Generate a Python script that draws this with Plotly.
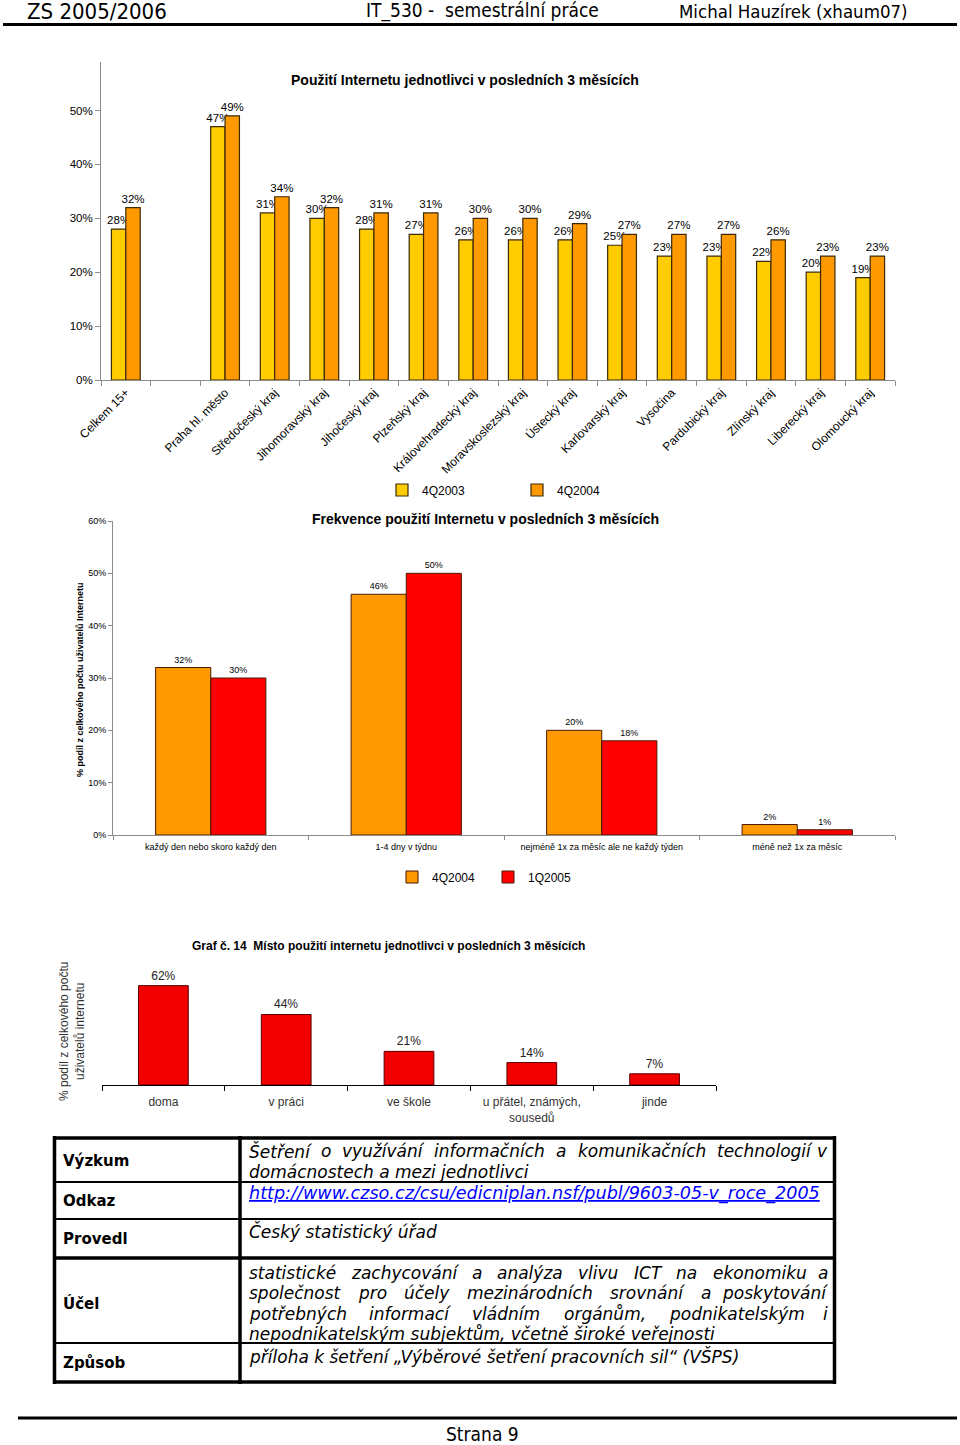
import plotly.graph_objects as go

W, H = 960, 1445
def X(px): return px / W
def Y(py): return 1 - py / H

ARIAL = "Arial, Liberation Sans, sans-serif"
VERD = "Verdana, DejaVu Sans, sans-serif"
NARROW = "DejaVu Sans Condensed, Liberation Sans Narrow, sans-serif"

# ---------------- data ----------------
header_left = "ZS 2005/2006"
header_mid = "IT_530 -  semestrální práce"
header_right = "Michal Hauzírek (xhaum07)"
footer_text = "Strana 9"

c1_title = "Použití Internetu jednotlivci v posledních 3 měsících"
c1_categories = ["Celkem 15+", " ", "Praha hl. město", "Středočeský kraj", "Jihomoravský kraj",
                 "Jihočeský kraj", "Plzeňský kraj", "Královehradecký kraj", "Moravskoslezský kraj",
                 "Ústecký kraj", "Karlovarský kraj", "Vysočina", "Pardubický kraj", "Zlínský kraj",
                 "Liberecký kraj", "Olomoucký kraj"]
c1_series = ["4Q2003", "4Q2004"]
c1_4q2003 = [0.28, None, 0.47, 0.31, 0.30, 0.28, 0.27, 0.26, 0.26, 0.26, 0.25, 0.23, 0.23, 0.22, 0.20, 0.19]
c1_4q2004 = [0.32, None, 0.49, 0.34, 0.32, 0.31, 0.31, 0.30, 0.30, 0.29, 0.27, 0.27, 0.27, 0.26, 0.23, 0.23]
c1_yticks = [0, 0.1, 0.2, 0.3, 0.4, 0.5]

c2_title = "Frekvence použití Internetu v posledních 3 měsících"
c2_ytitle = "% podíl z celkového počtu uživatelů Internetu"
c2_categories = ["každý den nebo skoro každý den", "1-4 dny v týdnu",
                 "nejméně 1x za měsíc ale ne každý týden", "méně než 1x za měsíc"]
c2_series = ["4Q2004", "1Q2005"]
c2_4q2004 = [0.32, 0.46, 0.20, 0.02]
c2_1q2005 = [0.30, 0.50, 0.18, 0.01]
c2_yticks = [0, 0.1, 0.2, 0.3, 0.4, 0.5, 0.6]

c3_title = "Graf č. 14  Místo použití internetu jednotlivci v posledních 3 měsících"
c3_ytitle = "% podíl z celkového počtu<br>uživatelů internetu"
c3_categories = ["doma", "v práci", "ve škole", "u přátel, známých,<br>sousedů", "jinde"]
c3_values = [62, 44, 21, 14, 7]

tbl_labels = ["Výzkum", "Odkaz", "Provedl", "Účel", "Způsob"]
tbl_vyzkum = ["Šetření o využívání informačních a komunikačních technologií v",
              "domácnostech a mezi jednotlivci"]
tbl_odkaz = "http://www.czso.cz/csu/edicniplan.nsf/publ/9603-05-v_roce_2005"
tbl_provedl = "Český statistický úřad"
tbl_ucel = ["statistické zachycování a analýza vlivu ICT na ekonomiku a",
            "společnost pro účely mezinárodních srovnání a poskytování",
            "potřebných informací vládním orgánům, podnikatelským i",
            "nepodnikatelským subjektům, včetně široké veřejnosti"]
tbl_zpusob = "příloha k šetření „Výběrové šetření pracovních sil“ (VŠPS)"

# ---------------- figure ----------------
fig = go.Figure()
EDGE1 = "#3d2a06"

fig.add_trace(go.Bar(x=c1_categories, y=c1_4q2003, name=c1_series[0], width=0.29, offset=-0.29,
                     marker=dict(color="#FFCC00", line=dict(color=EDGE1, width=1.2)),
                     texttemplate="%{y:.0%}", textposition="outside", constraintext="none",
                     cliponaxis=False, textfont=dict(family=ARIAL, size=11.5, color="black"),
                     xaxis="x", yaxis="y", legend="legend", hoverinfo="skip"))
fig.add_trace(go.Bar(x=c1_categories, y=c1_4q2004, name=c1_series[1], width=0.29, offset=0,
                     marker=dict(color="#FF9900", line=dict(color=EDGE1, width=1.2)),
                     texttemplate="%{y:.0%}", textposition="outside", constraintext="none",
                     cliponaxis=False, textfont=dict(family=ARIAL, size=11.5, color="black"),
                     xaxis="x", yaxis="y", legend="legend", hoverinfo="skip"))

EDGE2 = "#4a1a00"
fig.add_trace(go.Bar(x=c2_categories, y=c2_4q2004, name=c2_series[0], width=0.282, offset=-0.282,
                     marker=dict(color="#FF9900", line=dict(color=EDGE2, width=1)),
                     texttemplate="%{y:.0%}", textposition="outside", constraintext="none",
                     cliponaxis=False, textfont=dict(family=ARIAL, size=9, color="black"),
                     xaxis="x2", yaxis="y2", legend="legend2", hoverinfo="skip"))
fig.add_trace(go.Bar(x=c2_categories, y=c2_1q2005, name=c2_series[1], width=0.282, offset=0,
                     marker=dict(color="#FF0000", line=dict(color=EDGE2, width=1)),
                     texttemplate="%{y:.0%}", textposition="outside", constraintext="none",
                     cliponaxis=False, textfont=dict(family=ARIAL, size=9, color="black"),
                     xaxis="x2", yaxis="y2", legend="legend2", hoverinfo="skip"))

fig.add_trace(go.Bar(x=c3_categories, y=c3_values, name="místo", width=0.405, offset=-0.2025,
                     marker=dict(color="#F20000", line=dict(color="#5a0000", width=1)),
                     texttemplate="%{y}%", textposition="outside", constraintext="none",
                     cliponaxis=False, textfont=dict(family=ARIAL, size=12, color="#222"),
                     xaxis="x3", yaxis="y3", showlegend=False, hoverinfo="skip"))

annotations = []
shapes = []

def ann(px, py, text, size, family=ARIAL, xanchor="center", color="black", yanchor="middle"):
    annotations.append(dict(x=X(px), y=Y(py), xref="paper", yref="paper", text=text,
                            showarrow=False, xanchor=xanchor, yanchor=yanchor,
                            font=dict(family=family, size=size, color=color)))

def line(x0, y0, x1, y1, width, color="black"):
    shapes.append(dict(type="line", xref="paper", yref="paper", x0=X(x0), y0=Y(y0),
                       x1=X(x1), y1=Y(y1), line=dict(color=color, width=width)))

# header / footer
ann(25, 11, header_left, 22, NARROW, "left")
ann(482, 10.5, header_mid, 19, NARROW, "center")
ann(910, 11, header_right, 18.5, NARROW, "right")
line(3, 24.5, 957, 24.5, 3)
line(18, 1418, 957, 1418, 3)
ann(482, 1434, footer_text, 19, NARROW, "center")

# chart titles
ann(465, 80, "<b>" + c1_title + "</b>", 14)
ann(485, 519, "<b>" + c2_title + "</b>", 14)
ann(388, 946, "<b>" + c3_title + "</b>", 12)
ann(80, 680, "<b>" + c2_ytitle + "</b>", 9)
annotations[-1]["textangle"] = -90
ann(72, 1032, c3_ytitle, 12, color="#333")
annotations[-1]["textangle"] = -90

# table
CW = {' ': .318, 'a': .613, 'b': .635, 'c': .550, 'd': .635, 'e': .615, 'f': .352, 'g': .635,
      'h': .634, 'i': .278, 'j': .278, 'k': .579, 'l': .278, 'm': .974, 'n': .634, 'o': .612,
      'p': .635, 'r': .411, 's': .521, 't': .392, 'u': .634, 'v': .592, 'w': .818, 'x': .592,
      'y': .592, 'z': .525, 'C': .698, 'I': .295, 'T': .611, 'S': .635, ',': .318}
BASE = {'á': 'a', 'é': 'e', 'í': 'i', 'ý': 'y', 'ú': 'u', 'ů': 'u', 'č': 'c', 'ř': 'r', 'š': 's',
        'ž': 'z', 'ě': 'e', 'ň': 'n', 'ť': 't', 'Š': 'S', 'Č': 'C'}

def tw(s, size):
    return sum(CW.get(BASE.get(ch, ch), 0.6) for ch in s) * size

TSIZE = 17
def justified(text, py, left=247, right=830):
    words = text.split()
    widths = [tw(w, TSIZE) for w in words]
    gap = (right - left - sum(widths)) / (len(words) - 1)
    x = left
    for i, (w, wd) in enumerate(zip(words, widths)):
        if i == len(words) - 1:
            ann(right, py, "<i>" + w + "</i>", TSIZE, VERD, "right")
        else:
            ann(x, py, "<i>" + w + "</i>", TSIZE, VERD, "left")
        x += wd + gap

def plain(text, py, color="black", size=TSIZE):
    ann(247, py, "<i>" + text + "</i>", size, VERD, "left", color=color)

label_y = [1161, 1201, 1239, 1303, 1363]
for lab, py in zip(tbl_labels, label_y):
    ann(61, py, "<b>" + lab + "</b>", 15, VERD, "left")

justified(tbl_vyzkum[0], 1151)
plain(tbl_vyzkum[1], 1172)
plain("<u>" + tbl_odkaz + "</u>", 1193, color="#0000FF", size=17.6)
plain(tbl_provedl, 1231)
justified(tbl_ucel[0], 1273)
justified(tbl_ucel[1], 1293)
justified(tbl_ucel[2], 1314)
plain(tbl_ucel[3], 1334)
plain(tbl_zpusob, 1356)

# table lines
line(53, 1138, 836, 1138, 3.5)
line(53, 1382, 836, 1382, 3.5)
line(54.5, 1136, 54.5, 1384, 3.5)
line(834.5, 1136, 834.5, 1384, 3.5)
line(240, 1136, 240, 1384, 3.5)
line(53, 1182, 836, 1182, 2)
line(53, 1219, 836, 1219, 2)
line(53, 1258, 836, 1258, 3.5)
line(53, 1343, 836, 1343, 2)

GRAY = "#8c8c8c"
fig.update_layout(
    width=W, height=H, margin=dict(l=0, r=0, t=0, b=0, autoexpand=False),
    paper_bgcolor="white", plot_bgcolor="white",
    barmode="overlay",
    font=dict(family=ARIAL, color="black"),
    xaxis=dict(domain=[X(101), X(895)], anchor="y", type="category", range=[-0.5, 15.5],
               showline=True, linecolor=GRAY, ticks="outside", tickson="boundaries", ticklen=5,
               tickcolor=GRAY, tickangle=-45, tickfont=dict(size=12), showgrid=False,
               zeroline=False, automargin=False),
    yaxis=dict(domain=[Y(380), Y(62)], anchor="x", range=[0, 0.59], tickvals=c1_yticks,
               tickformat=".0%", showline=True, linecolor=GRAY, ticks="outside", ticklen=5,
               tickcolor=GRAY, tickfont=dict(size=11.5), showgrid=False, zeroline=False,
               automargin=False),
    xaxis2=dict(domain=[X(113), X(895)], anchor="y2", type="category", range=[-0.5, 3.5],
                showline=True, linecolor=GRAY, ticks="outside", tickson="boundaries", ticklen=4,
                tickcolor=GRAY, tickfont=dict(size=9), showgrid=False, zeroline=False,
                ticklabelstandoff=3, automargin=False),
    yaxis2=dict(domain=[Y(835), Y(521)], anchor="x2", range=[0, 0.6], tickvals=c2_yticks,
                tickformat=".0%", showline=True, linecolor=GRAY, ticks="outside", ticklen=4,
                tickcolor=GRAY, tickfont=dict(size=9), showgrid=False, zeroline=False,
                automargin=False),
    xaxis3=dict(domain=[X(102), X(716)], anchor="y3", type="category", range=[-0.5, 4.5],
                showline=True, linecolor="black", ticks="outside", tickson="boundaries", ticklen=5,
                tickcolor="black", tickfont=dict(size=12, color="#333"), showgrid=False,
                zeroline=False, ticklabelstandoff=6, automargin=False),
    yaxis3=dict(domain=[Y(1085), Y(960)], anchor="x3", range=[0, 78], visible=False,
                automargin=False),
    legend=dict(orientation="h", x=X(382), y=Y(490), xanchor="left", yanchor="middle",
                entrywidth=90, font=dict(size=12), bgcolor="rgba(0,0,0,0)", itemclick=False),
    legend2=dict(orientation="h", x=X(392), y=Y(877), xanchor="left", yanchor="middle",
                 entrywidth=51, font=dict(size=12), bgcolor="rgba(0,0,0,0)", itemclick=False),
    annotations=annotations, shapes=shapes,
)

fig.write_html("out.html", config={"displayModeBar": False},
               post_script="document.body.style.margin='0';document.body.style.padding='0';"
                           "document.body.style.overflow='hidden';")
